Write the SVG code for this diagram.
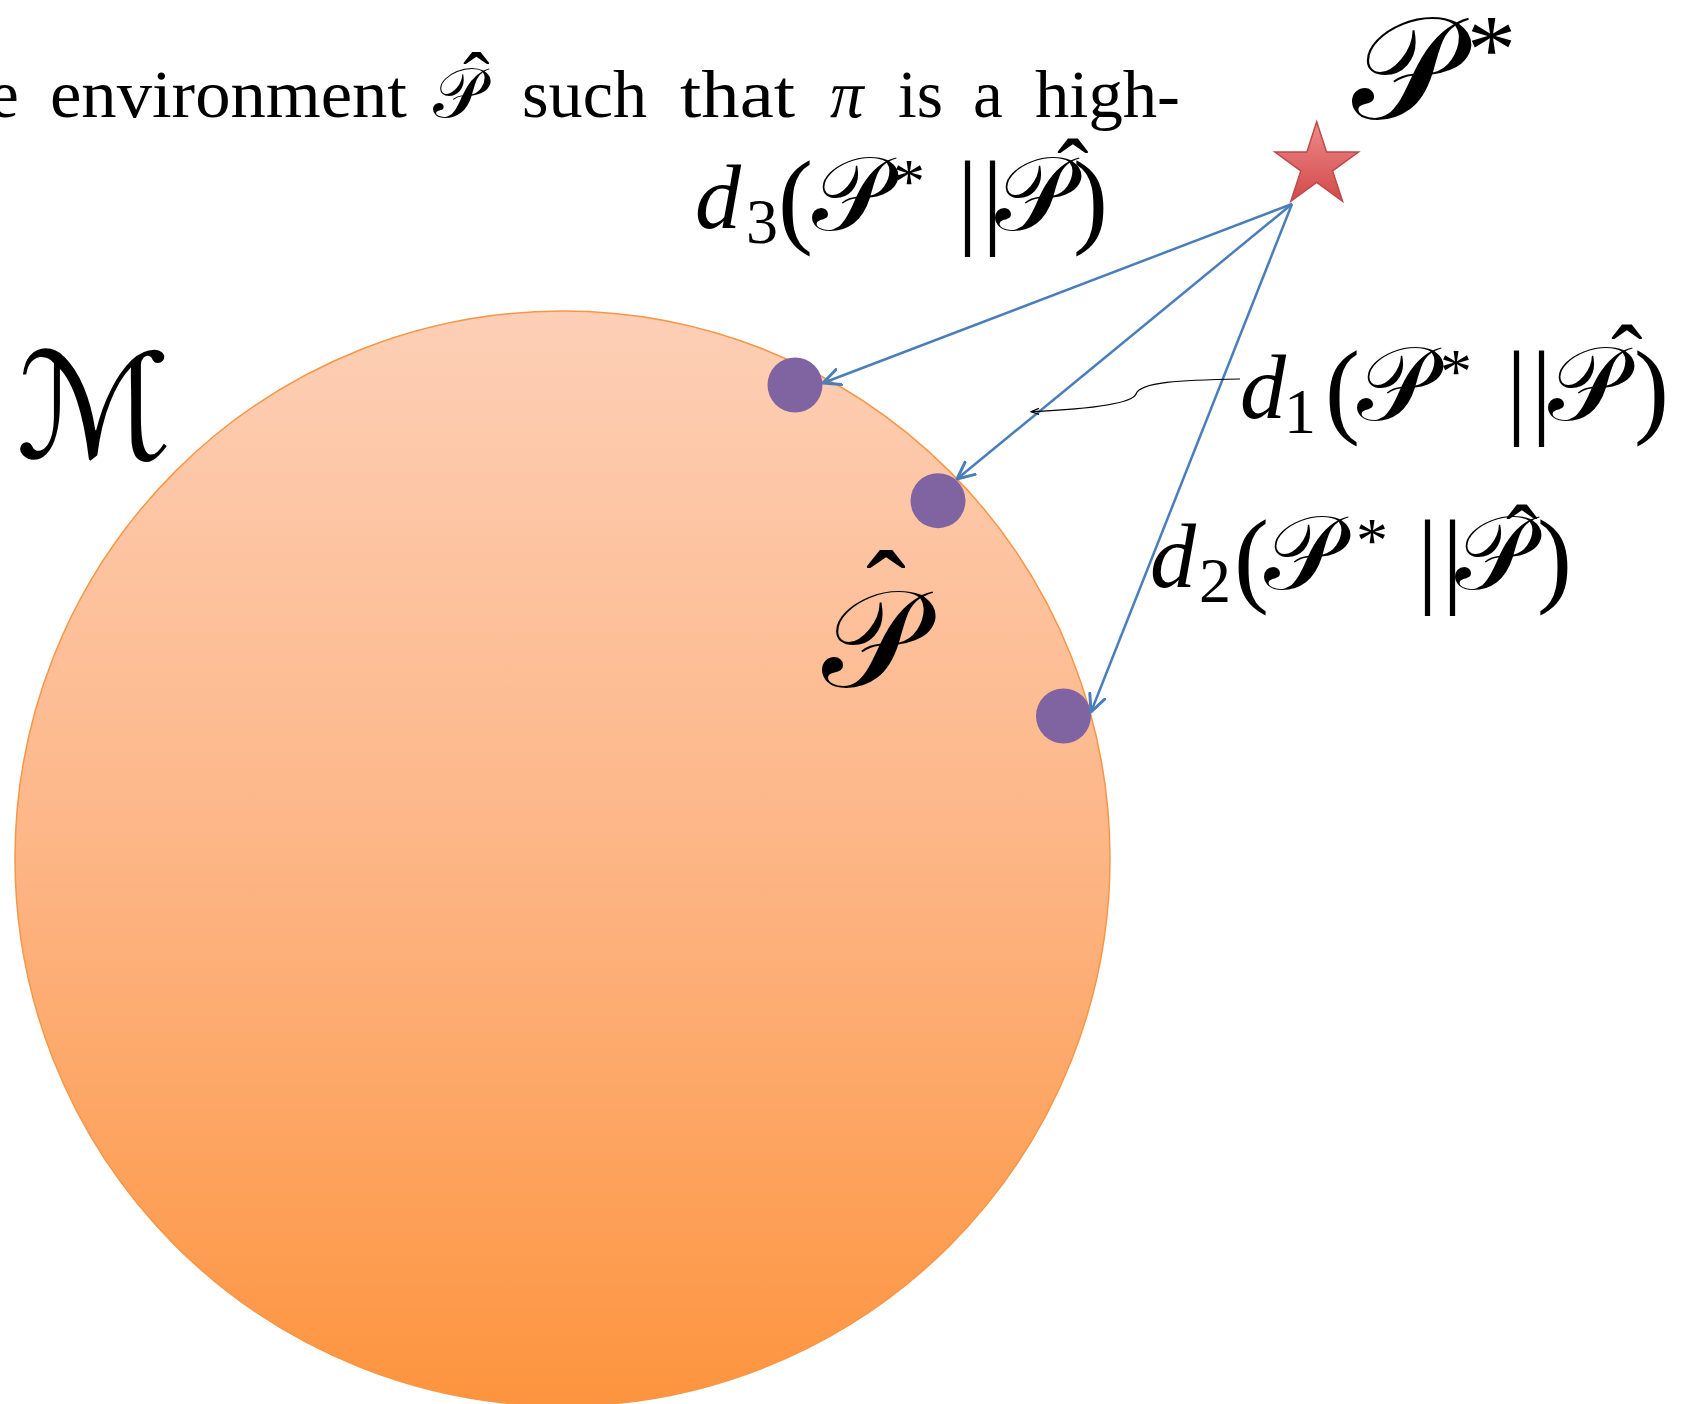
<svg xmlns="http://www.w3.org/2000/svg" width="1681" height="1404" viewBox="0 0 1681 1404">
<defs>
  <linearGradient id="gCircle" x1="0" y1="0" x2="0" y2="1">
    <stop offset="0" stop-color="#fdcfb6"/>
    <stop offset="0.5" stop-color="#fdb585"/>
    <stop offset="1" stop-color="#fd943e"/>
  </linearGradient>
  <linearGradient id="gStar" x1="0" y1="0" x2="0" y2="1">
    <stop offset="0" stop-color="#ee8a8a"/>
    <stop offset="1" stop-color="#d24a4a"/>
  </linearGradient>
  <marker id="arrowBlue" markerUnits="userSpaceOnUse" viewBox="0 0 20 20" refX="18" refY="10" markerWidth="20" markerHeight="20" orient="auto">
    <path d="M1,2 L18,10 L1,18" fill="none" stroke="#4a7ebb" stroke-width="3" stroke-linecap="round" stroke-linejoin="round"/>
  </marker>
  <marker id="arrowBlack" markerUnits="userSpaceOnUse" viewBox="0 0 10 10" refX="9" refY="5" markerWidth="10" markerHeight="10" orient="auto">
    <path d="M1,2 L9,5 L1,8" fill="none" stroke="#000" stroke-width="1.2"/>
  </marker>
</defs>
<style>
  text { fill: #000; }
  .body { font-family: "Liberation Serif", serif; font-size: 67px; }
  .math { font-family: "Liberation Serif", serif; font-size: 92px; }
  .it { font-style: italic; }
  .cal { font-family: "DejaVu Serif", "DejaVu Sans", serif; font-style: normal; }
  .calm { font-family: "DejaVu Serif", "DejaVu Sans", serif; font-style: normal; font-size: 105px; }
  .sub { font-size: 64px; }
  .big { font-size: 105px; }
  .hat { font-family: "Liberation Serif", serif; font-size: 95px; }
  .conn { fill: none; stroke: #4a7ebb; stroke-width: 2.5; marker-end: url(#arrowBlue); }
  .dot { fill: #8064a2; }
</style>

<g id="region-M">
  <circle cx="562.5" cy="858.5" r="547.5" fill="url(#gCircle)" stroke="#f79646" stroke-width="1.5"/>
</g>

<g id="sentence">
  <text class="body" x="-11" y="117">e</text>
  <text class="body" x="50" y="117" textLength="357" lengthAdjust="spacingAndGlyphs">environment</text>
  <text class="body"><tspan class="cal" x="433" y="117" style="font-size:70px">𝒫</tspan><tspan x="463" y="108" style="font-size:80px">ˆ</tspan></text>
  <text class="body" x="522" y="117" textLength="125" lengthAdjust="spacingAndGlyphs">such</text>
  <text class="body" x="680" y="117" textLength="115" lengthAdjust="spacingAndGlyphs">that</text>
  <text class="body it" x="830" y="117">π</text>
  <text class="body" x="898" y="117" textLength="45" lengthAdjust="spacingAndGlyphs">is</text>
  <text class="body" x="973" y="117">a</text>
  <text class="body" x="1035" y="117" textLength="145" lengthAdjust="spacingAndGlyphs">high-</text>
</g>

<g id="label-M">
  <text class="cal" x="16" y="458" style="font-size:146px">ℳ</text>
</g>

<g id="label-Pstar">
  <text class="math"><tspan class="cal" x="1352" y="119" style="font-size:145px">𝒫</tspan><tspan x="1467" y="82" style="font-size:98px">*</tspan></text>
</g>

<g id="label-Phat">
  <text class="math"><tspan class="cal" x="822" y="687" style="font-size:138px">𝒫</tspan><tspan class="hat" x="866" y="634" style="font-size:120px">ˆ</tspan></text>
</g>

<g id="node-Pstar-star">
  <polygon points="1316.7,121.7 1326.5,152.1 1358.5,152.1 1332.6,170.9 1342.6,201.3 1316.7,182.5 1290.8,201.3 1300.8,170.9 1274.9,152.1 1306.9,152.1" fill="url(#gStar)" stroke="#bc4a48" stroke-width="1.5"/>
</g>

<g id="node-dot1"><circle class="dot" cx="795" cy="385" r="27.5"/></g>
<g id="node-dot2"><circle class="dot" cx="938" cy="500.7" r="27.5"/></g>
<g id="node-dot3"><circle class="dot" cx="1063.5" cy="716" r="27.5"/></g>

<g id="connectors">
  <path class="conn" d="M1292,204 L823,383"/>
  <path class="conn" d="M1292,204 L957,479"/>
  <path class="conn" d="M1292,204 L1091,712"/>
  <path d="M1240,379 C1180,380 1140,382 1136,394 C1132,404 1090,409 1031,411.7" fill="none" stroke="#000" stroke-width="1.2" marker-end="url(#arrowBlack)"/>
</g>

<g id="label-d3">
  <text class="math"><tspan class="it" x="695" y="228">d</tspan><tspan class="sub" x="746" y="243">3</tspan><tspan class="big" x="778" y="234">(</tspan><tspan class="calm" x="812" y="230">𝒫</tspan><tspan class="sub" x="893" y="203">*</tspan><tspan class="big" x="957" y="234" letter-spacing="4">||</tspan><tspan class="calm" x="995" y="230">𝒫</tspan><tspan class="hat" x="1057" y="205">ˆ</tspan><tspan class="big" x="1073" y="234">)</tspan></text>
</g>
<g id="label-d1">
  <text class="math"><tspan class="it" x="1240" y="418">d</tspan><tspan class="sub" x="1284" y="433">1</tspan><tspan class="big" x="1325" y="424">(</tspan><tspan class="calm" x="1357" y="420">𝒫</tspan><tspan class="sub" x="1440" y="393">*</tspan><tspan class="big" x="1506" y="424" letter-spacing="4">||</tspan><tspan class="calm" x="1548" y="420">𝒫</tspan><tspan class="hat" x="1611" y="391">ˆ</tspan><tspan class="big" x="1634" y="424">)</tspan></text>
</g>
<g id="label-d2">
  <text class="math"><tspan class="it" x="1150" y="587">d</tspan><tspan class="sub" x="1199" y="602">2</tspan><tspan class="big" x="1234" y="593">(</tspan><tspan class="calm" x="1264" y="589">𝒫</tspan><tspan class="sub" x="1356" y="562">*</tspan><tspan class="big" x="1417" y="593" letter-spacing="4">||</tspan><tspan class="calm" x="1455" y="589">𝒫</tspan><tspan class="hat" x="1506" y="571">ˆ</tspan><tspan class="big" x="1537" y="593">)</tspan></text>
</g>
</svg>
